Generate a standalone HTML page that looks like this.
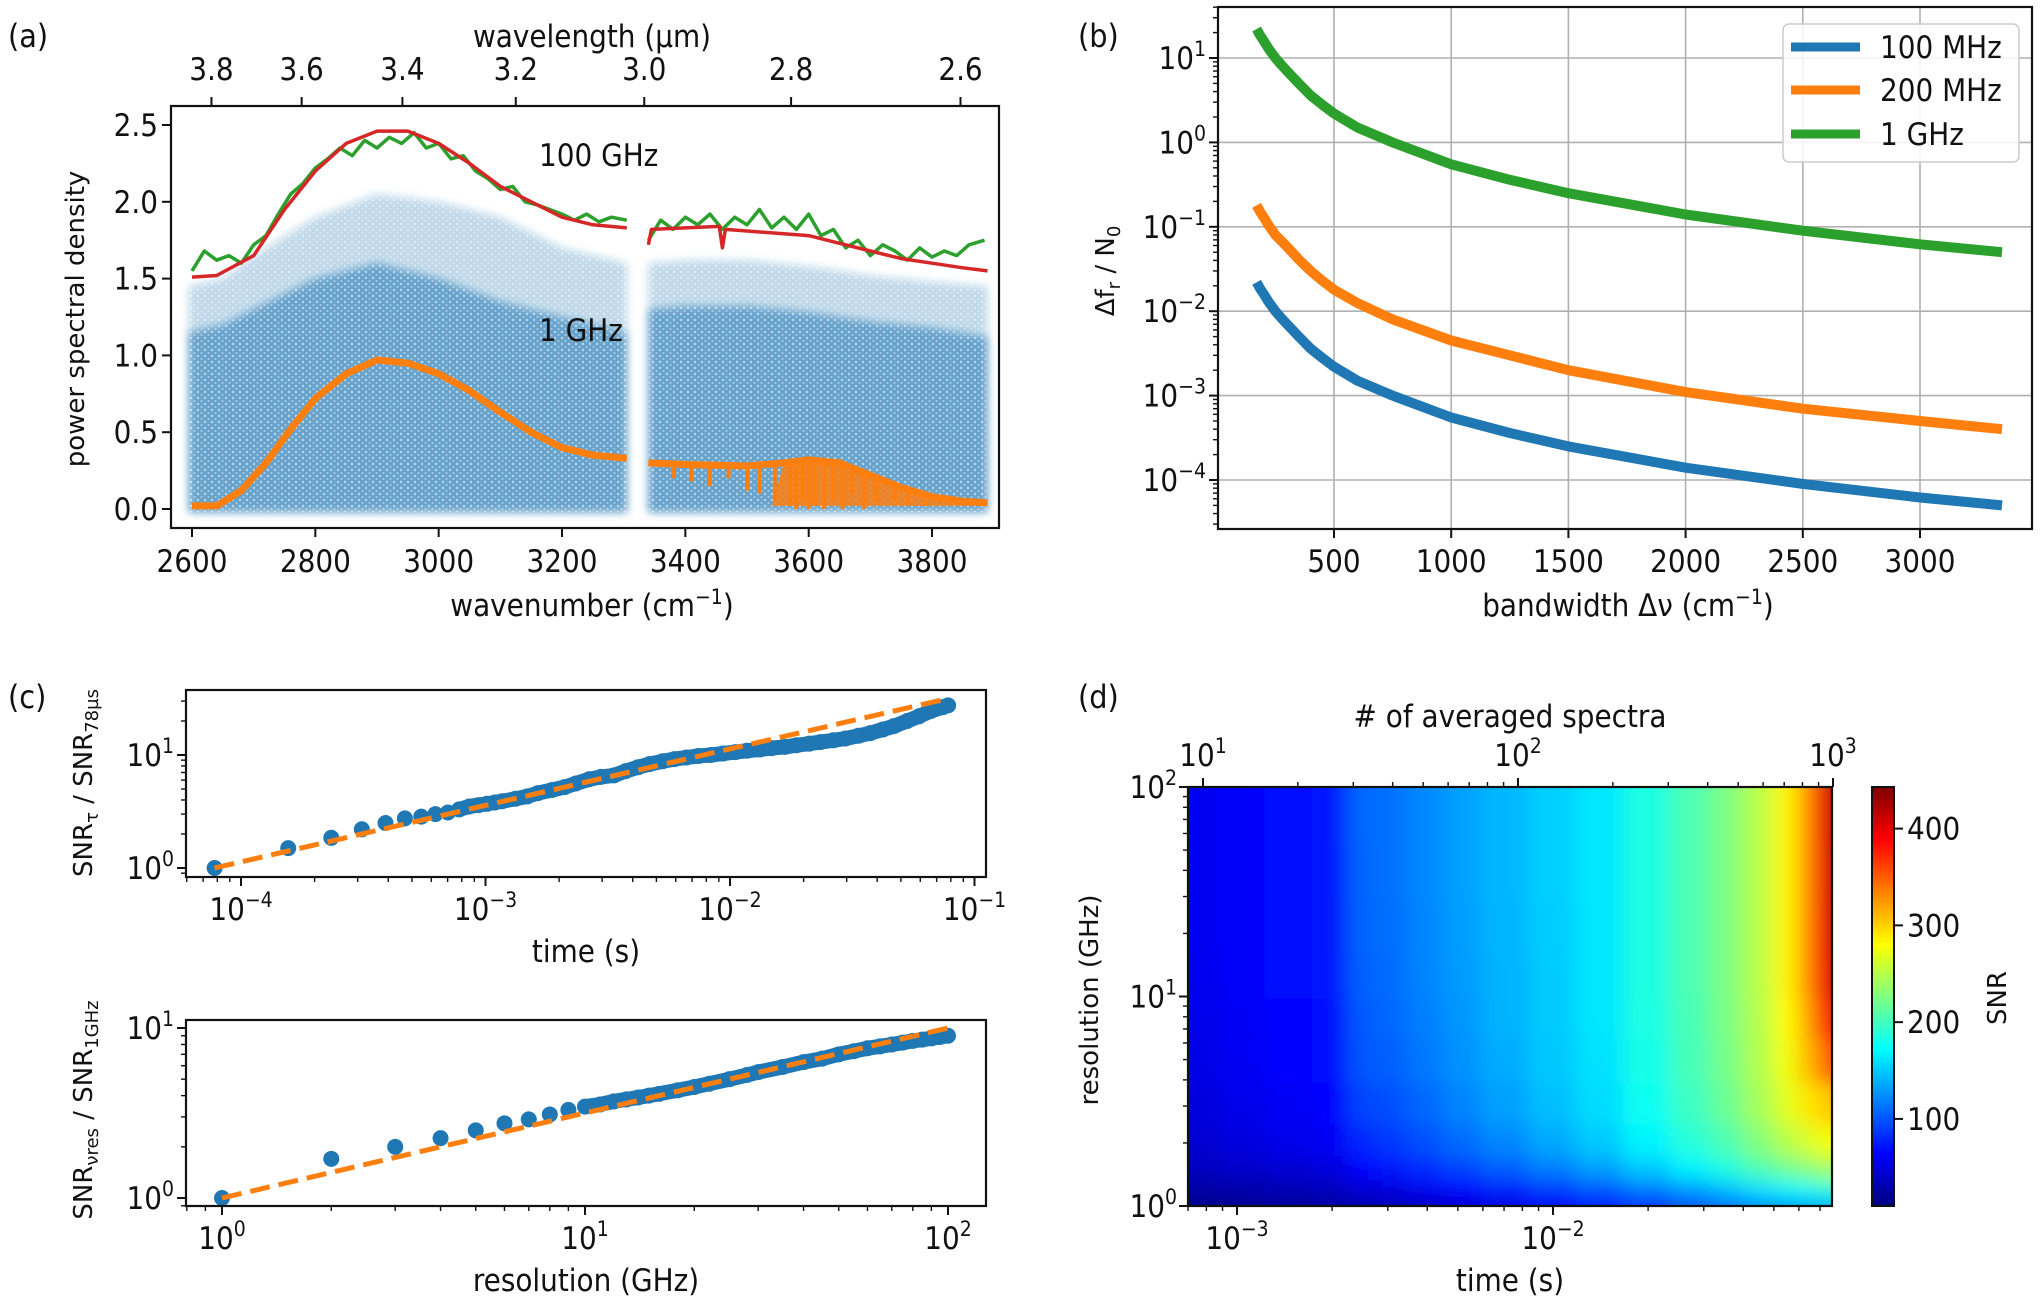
<!DOCTYPE html>
<html><head><meta charset="utf-8"><style>
body{margin:0;background:#fff}
svg text{font-family:"DejaVu Sans Condensed","DejaVu Sans",sans-serif;fill:#111}
.rt{font-family:"DejaVu Sans",sans-serif}
</style></head><body>
<svg id="fig" width="2040" height="1299" viewBox="0 0 2040 1299" xmlns="http://www.w3.org/2000/svg">
<defs>
<clipPath id="clipA"><rect x="171" y="106" width="828" height="422"/></clipPath>
<clipPath id="clipB"><rect x="1218" y="7" width="814" height="522"/></clipPath>
<clipPath id="clipC1"><rect x="186" y="690" width="800" height="187"/></clipPath>
<clipPath id="clipC2"><rect x="186" y="1020" width="800" height="186"/></clipPath>
<clipPath id="clipD"><rect x="1188" y="787" width="644" height="419"/></clipPath>
<pattern id="dots" width="7" height="6" patternUnits="userSpaceOnUse"><circle cx="2" cy="2" r="1.2" fill="#fff" opacity="0.5"/><circle cx="5.5" cy="5" r="1" fill="#fff" opacity="0.4"/></pattern>
<filter id="blurD" x="-5%" y="-5%" width="110%" height="110%"><feGaussianBlur stdDeviation="10"/></filter>
<filter id="blurA"><feGaussianBlur stdDeviation="4"/></filter>
<linearGradient id="jetGrad" x1="0" y1="1" x2="0" y2="0">
<stop offset="0" stop-color="#00007f"/><stop offset="0.125" stop-color="#0000ff"/><stop offset="0.375" stop-color="#00ffff"/><stop offset="0.625" stop-color="#ffff00"/><stop offset="0.875" stop-color="#ff0000"/><stop offset="1" stop-color="#7f0000"/>
</linearGradient>
</defs>
<g id="pa"></g>
<g id="pb"></g>
<g id="pc"></g>
<g id="pd"></g>

<text x="8" y="47" font-size="32">(a)</text>
<text x="1078" y="47" font-size="32">(b)</text>
<text x="8" y="708" font-size="32">(c)</text>
<text x="1078" y="708" font-size="32">(d)</text>

<text x="592" y="47" font-size="31" text-anchor="middle">wavelength (µm)</text>
<text class="rt" x="0" y="0" font-size="26" text-anchor="middle" transform="translate(84,319) rotate(-90)">power spectral density</text>
<text x="592" y="616" font-size="31" text-anchor="middle">wavenumber (cm<tspan dy="-12" font-size="21">−1</tspan><tspan dy="12">)</tspan></text>
<text x="539" y="166" font-size="31">100 GHz</text>
<text x="539" y="341" font-size="31">1 GHz</text>

<text class="rt" x="0" y="0" font-size="26" text-anchor="middle" transform="translate(1114,271) rotate(-90)">Δf<tspan dy="6" font-size="18">r</tspan><tspan dy="-6"> / N</tspan><tspan dy="6" font-size="18">0</tspan></text>
<text x="1628" y="616" font-size="31" text-anchor="middle">bandwidth Δν (cm<tspan dy="-12" font-size="21">−1</tspan><tspan dy="12">)</tspan></text>
<g>
<rect x="1783" y="24" width="236" height="138" rx="6" fill="#fff" fill-opacity="0.85" stroke="#ccc" stroke-width="1.5"/>
<line x1="1791" y1="47" x2="1860" y2="47" stroke="#1f77b4" stroke-width="9"/>
<text x="1880" y="58" font-size="31">100 MHz</text>
<line x1="1791" y1="90" x2="1860" y2="90" stroke="#ff7f0e" stroke-width="9"/>
<text x="1880" y="101" font-size="31">200 MHz</text>
<line x1="1791" y1="134" x2="1860" y2="134" stroke="#2ca02c" stroke-width="9"/>
<text x="1880" y="145" font-size="31">1 GHz</text>
</g>

<text class="rt" x="0" y="0" font-size="26" text-anchor="middle" transform="translate(92,783) rotate(-90)">SNR<tspan dy="6" font-size="18">τ</tspan><tspan dy="-6"> / SNR</tspan><tspan dy="6" font-size="18">78µs</tspan></text>
<text x="586" y="962" font-size="31" text-anchor="middle">time (s)</text>
<text class="rt" x="0" y="0" font-size="26" text-anchor="middle" transform="translate(92,1110) rotate(-90)">SNR<tspan dy="6" font-size="18">νres</tspan><tspan dy="-6"> / SNR</tspan><tspan dy="6" font-size="18">1GHz</tspan></text>
<text x="586" y="1291" font-size="31" text-anchor="middle">resolution (GHz)</text>

<text x="1510" y="727" font-size="31" text-anchor="middle"># of averaged spectra</text>
<text class="rt" x="0" y="0" font-size="26" text-anchor="middle" transform="translate(1098,1000) rotate(-90)">resolution (GHz)</text>
<text x="1510" y="1291" font-size="31" text-anchor="middle">time (s)</text>
<text class="rt" x="0" y="0" font-size="26" text-anchor="middle" transform="translate(2006,998) rotate(-90)">SNR</text>
</svg>
<script>
// ---------- Panel (a) data ----------
const scatLWn=[2595,2650,2700,2800,2900,3000,3100,3200,3305];
const scatLOuter=[1.45,1.5,1.65,1.9,2.05,2.0,1.9,1.7,1.6];
const scatLDense=[1.15,1.2,1.3,1.5,1.6,1.5,1.35,1.25,1.15];
const scatRWn=[3340,3400,3500,3600,3700,3800,3890];
const scatROuter=[1.6,1.62,1.62,1.58,1.52,1.48,1.45];
const scatRDense=[1.3,1.32,1.32,1.28,1.22,1.18,1.12];
const redLWn=[2600,2640,2700,2750,2800,2850,2900,2950,3000,3050,3100,3150,3200,3250,3305];
const redLVal=[1.51,1.52,1.65,1.95,2.2,2.38,2.46,2.46,2.38,2.25,2.1,2.0,1.9,1.85,1.83];
const redRWn=[3340,3345,3400,3455,3460,3465,3500,3600,3650,3700,3750,3800,3850,3890];
const redRVal=[1.72,1.82,1.83,1.84,1.7,1.82,1.81,1.78,1.73,1.68,1.63,1.6,1.57,1.55];
const greenLWn=[2600,2620,2640,2660,2680,2700,2720,2740,2760,2780,2800,2820,2840,2860,2880,2900,2920,2940,2960,2980,3000,3020,3040,3060,3080,3100,3120,3140,3160,3180,3200,3220,3240,3260,3280,3305];
const greenLVal=[1.55,1.68,1.62,1.65,1.6,1.72,1.78,1.92,2.05,2.12,2.22,2.28,2.35,2.3,2.4,2.35,2.42,2.38,2.45,2.35,2.38,2.28,2.3,2.2,2.15,2.08,2.1,2.0,1.98,1.95,1.92,1.88,1.92,1.87,1.9,1.88];
const greenRWn=[3340,3360,3380,3400,3420,3440,3460,3480,3500,3520,3540,3560,3580,3600,3620,3640,3660,3680,3700,3720,3740,3760,3780,3800,3820,3840,3860,3885];
const greenRVal=[1.75,1.88,1.82,1.9,1.85,1.92,1.82,1.9,1.85,1.95,1.83,1.9,1.82,1.92,1.78,1.82,1.7,1.75,1.65,1.72,1.68,1.62,1.7,1.64,1.68,1.65,1.72,1.75];
const orLWn=[2600,2640,2680,2720,2760,2800,2850,2900,2950,3000,3050,3100,3150,3200,3250,3305];
const orLVal=[0.02,0.02,0.12,0.3,0.52,0.72,0.88,0.97,0.95,0.88,0.77,0.63,0.5,0.4,0.35,0.33];
const orRWn=[3340,3400,3500,3560,3600,3650,3700,3750,3800,3850,3890];
const orRVal=[0.3,0.29,0.28,0.3,0.32,0.3,0.22,0.14,0.08,0.05,0.04];
const dipWn=[3380,3410,3440,3470,3500,3520,3545,3570,3580,3590,3600,3610,3625,3640,3655,3670,3690,3710,3740,3760,3790];
const dipTop=[0.29,0.29,0.29,0.28,0.28,0.29,0.3,0.31,0.32,0.32,0.32,0.32,0.31,0.3,0.29,0.27,0.24,0.2,0.14,0.1,0.06];
const dipBot=[0.2,0.18,0.15,0.2,0.12,0.1,0.05,0.02,0.0,0.05,0.0,0.02,0.0,0.05,0.0,0.1,0.0,0.05,0.05,0.03,0.02];
const aXTicks=[2600,2800,3000,3200,3400,3600,3800];
const aYTicks=[0,0.5,1.0,1.5,2.0,2.5];
const aTopTicks=[3.8,3.6,3.4,3.2,3.0,2.8,2.6];
// ---------- Panel (b) data ----------
const bBandwidth=[170,185,200,220,250,275,300,350,400,450,500,600,750,1000,1250,1500,2000,2500,3000,3350];
const b1GHz=[22,18.5,16,13,10,8.3,7,5,3.6,2.8,2.2,1.5,1.0,0.55,0.36,0.25,0.14,0.09,0.062,0.05];
const b200MHz=[0.18,0.15,0.13,0.105,0.08,0.068,0.058,0.041,0.03,0.023,0.018,0.0125,0.008,0.0045,0.003,0.002,0.0011,0.0007,0.0005,0.0004];
const b100MHz=[0.022,0.0185,0.016,0.013,0.01,0.0083,0.007,0.005,0.0036,0.0028,0.0022,0.0015,0.001,0.00055,0.00036,0.00025,0.00014,0.00009,0.000062,0.00005];
const bXTicks=[500,1000,1500,2000,2500,3000];
const bYExp=[1,0,-1,-2,-3,-4];
// ---------- Panel (c) data ----------
const cTimeN=[1,2,3,4,5,6,7,8,9,10,11,12,13,14,15,17,19,21,24,27,30,34,38,43,48,54,60,68,76,85,95,107,120,135,150,170,190,215,240,270,300,340,380,430,480,540,600,680,760,850,950,1000];
const cTimeSNR=[1,1.5,1.85,2.2,2.5,2.75,2.85,3.0,3.1,3.3,3.5,3.6,3.7,3.8,3.9,4.1,4.3,4.6,4.9,5.2,5.6,6.1,6.4,6.6,7.2,7.8,8.3,8.8,9.2,9.5,9.8,10.0,10.3,10.6,10.9,11.2,11.5,11.8,12.2,12.6,13.0,13.5,14.0,14.8,15.6,16.8,18,20,22,24.5,26.5,27.5];
const cTimeStep=7.8e-5;
const cTimeFitN=[1,1000];
const cTimeFitSNR=[1,31.6];
const cRes=[1,2,3,4,5,6,7,8,9,10,11,12,13,14,15,16,18,20,22,25,28,30,35,40,45,50,55,60,65,70,75,80,85,90,95,100];
const cResSNR=[1,1.7,2.0,2.25,2.5,2.75,2.9,3.1,3.3,3.45,3.55,3.7,3.8,3.9,4.0,4.1,4.3,4.5,4.7,5.0,5.3,5.5,5.9,6.3,6.6,7.0,7.3,7.6,7.8,8.0,8.2,8.4,8.55,8.7,8.85,9.0];
const cResFitX=[1,100];
const cResFitSNR=[1,10];
// ---------- Panel (d) data ----------
const dTimes=[7.8e-4,1e-3,1.5e-3,2e-3,2.5e-3,3e-3,4e-3,5e-3,7e-3,1e-2,1.4e-2,2e-2,2.8e-2,3.5e-2,4.5e-2,5.5e-2,6.5e-2,7.2e-2,7.8e-2];
const dRes=[1,1.2,1.5,2,3,5,8,12,20,40,70,100];
const dRow1=[15,18,22,25,30,33,38,45,52,60,70,82,95,108,120,128,132,135,138];
const dRow1p2=[25,28,32,36,45,50,58,66,76,88,100,115,130,145,160,170,178,185,190];
const dRow1p5=[38,42,46,50,65,72,82,92,104,118,132,150,168,185,205,220,232,240,245];
const dRow2=[45,50,55,60,80,88,98,110,122,136,150,168,188,205,228,250,265,275,282];
const dRow3=[50,55,60,65,92,98,108,120,132,145,158,178,198,218,242,268,290,300,310];
const dRow5=[54,59,64,69,100,105,115,126,137,149,160,182,202,222,247,275,310,340,360];
const dRow8=[55,60,65,70,102,108,118,128,140,150,162,184,204,224,248,280,320,370,400];
const dRow12=[57,62,67,72,105,110,120,130,140,150,162,185,205,225,250,285,330,385,420];
const dRow20=[58,62,67,72,106,111,121,131,141,151,162,185,205,225,250,285,330,388,428];
const dRow40=[58,62,67,72,107,112,122,132,142,152,162,185,205,225,250,285,330,390,432];
const dRow70=[58,62,67,72,108,112,122,132,142,152,162,185,205,225,250,285,330,390,435];
const dRow100=[58,62,67,72,108,112,122,132,142,152,162,185,205,225,250,285,330,390,435];
const dGrid=[dRow1,dRow1p2,dRow1p5,dRow2,dRow3,dRow5,dRow8,dRow12,dRow20,dRow40,dRow70,dRow100];
const cbMin=10, cbMax=443;
const cbTicks=[100,200,300,400];

const NS='http://www.w3.org/2000/svg';
function mk(tag,attrs,parent){const e=document.createElementNS(NS,tag);for(const k in attrs)e.setAttribute(k,attrs[k]);parent.appendChild(e);return e;}
function tlabel(parent,x,y,s,anchor){const t=mk('text',{x:x,y:y,'font-size':31,'text-anchor':anchor},parent);t.textContent=s;return t;}
function plabel(parent,x,y,exp,anchor){const t=mk('text',{x:x,y:y,'font-size':31,'text-anchor':anchor},parent);t.textContent='10';const s=mk('tspan',{dy:-13,'font-size':21},t);s.textContent=exp;return t;}
function fmtExp(e){return (e<0?'−':'')+Math.abs(e);}
function path(pts){return pts.map((p,i)=>(i?'L':'M')+p[0].toFixed(1)+','+p[1].toFixed(1)).join('');}
function frame(parent,x0,y0,x1,y1){const r=mk('rect',{x:x0,y:y0,width:x1-x0,height:y1-y0,fill:'none',stroke:'#111','stroke-width':2.2},parent);return r;}
function logMinors(lo,hi){const out=[];for(let d=Math.floor(lo);d<=Math.ceil(hi);d++){for(let m=2;m<=9;m++){const v=d+Math.log10(m);if(v>=lo&&v<=hi)out.push(v);}}return out;}

// ================= Panel A =================
(function(){
const g=document.getElementById('pa');
const X=w=>192+(w-2600)*0.6167, Y=v=>509-v*153.6;
const clip=mk('g',{'clip-path':'url(#clipA)'},g);


function band(wn,top,op,name,blur){const pts=wn.map((w,i)=>[X(w),Y(top[i])]);pts.push([X(wn[wn.length-1]),Y(-0.02)],[X(wn[0]),Y(-0.02)]);
 const p=mk('path',{d:path(pts)+'Z',fill:'#1f77b4','fill-opacity':op},clip);
 if(blur)p.setAttribute('filter','url(#blurA)');
 
 
 const q=mk('path',{d:path(pts)+'Z',fill:'url(#dots)'},clip);
 
 }
band(scatLWn,scatLOuter,0.28,'scatter-left-outer',true);
band(scatLWn,scatLDense,0.55,'scatter-left-dense',true);
band(scatRWn,scatROuter,0.28,'scatter-right-outer',true);
band(scatRWn,scatRDense,0.55,'scatter-right-dense',true);
function ln(wn,v,col,w,name){const p=mk('path',{d:path(wn.map((x,i)=>[X(x),Y(v[i])])),fill:'none',stroke:col,'stroke-width':w,'stroke-linejoin':'round'},clip);
 
 }
const fillPts=orRWn.filter(w=>w>=3540).map(w=>[X(w),Y(orRVal[orRWn.indexOf(w)])]);
fillPts.push([X(orRWn[orRWn.length-1]),Y(0.02)],[X(3540),Y(0.02)]);
const of=mk('path',{d:path(fillPts)+'Z',fill:'#ff7f0e','fill-opacity':0.85},clip);


dipWn.forEach((w,i)=>{const l=mk('line',{x1:X(w),x2:X(w),y1:Y(dipTop[i]),y2:Y(dipBot[i]),stroke:'#ff7f0e','stroke-width':4},clip);
 
 });
ln(orLWn,orLVal,'#ff7f0e',7,'orange-1ghz-left');
ln(orRWn,orRVal,'#ff7f0e',7,'orange-1ghz-right');
ln(greenLWn,greenLVal,'#2ca02c',3.5,'green-100ghz-left');
ln(greenRWn,greenRVal,'#2ca02c',3.5,'green-100ghz-right');
ln(redLWn,redLVal,'#d62728',3.5,'red-100ghz-left');
ln(redRWn,redRVal,'#d62728',3.5,'red-100ghz-right');
const f=frame(g,171,106,999,528);


aXTicks.forEach(v=>{const t=mk('line',{x1:X(v),x2:X(v),y1:528,y2:537,stroke:'#111','stroke-width':2},g);
 
 
 const l=tlabel(g,X(v),572,String(v),'middle');
 
 });
aYTicks.forEach(v=>{const t=mk('line',{x1:162,x2:171,y1:Y(v),y2:Y(v),stroke:'#111','stroke-width':2},g);
 
 
 const l=tlabel(g,158,Y(v)+11,v.toFixed(1),'end');
 
 });
aTopTicks.forEach(v=>{const x=X(10000/v);const t=mk('line',{x1:x,x2:x,y1:97,y2:106,stroke:'#111','stroke-width':2},g);
 
 
 const l=tlabel(g,x,80,v.toFixed(1),'middle');
 
 });
})();

// ================= Panel B =================
(function(){
const g=document.getElementById('pb');
const X=v=>1334+(v-500)*0.2344, Y=v=>58-(Math.log10(v)-1)*84.4;
bXTicks.forEach(v=>{const l=mk('line',{x1:X(v),x2:X(v),y1:7,y2:529,stroke:'#b0b0b0','stroke-width':1.6},g);
 
 });
bYExp.forEach(e=>{const y=Y(Math.pow(10,e));const l=mk('line',{x1:1218,x2:2032,y1:y,y2:y,stroke:'#b0b0b0','stroke-width':1.6},g);
 
 });
const clip=mk('g',{'clip-path':'url(#clipB)'},g);


[[b100MHz,'#1f77b4','line-100mhz'],[b200MHz,'#ff7f0e','line-200mhz'],[b1GHz,'#2ca02c','line-1ghz']].forEach(s=>{
 const p=mk('path',{d:path(bBandwidth.map((x,i)=>[X(x),Y(s[0][i])])),fill:'none',stroke:s[1],'stroke-width':10,'stroke-linejoin':'round'},clip);
 
 });
const f=frame(g,1218,7,2032,529);


bXTicks.forEach(v=>{const t=mk('line',{x1:X(v),x2:X(v),y1:529,y2:538,stroke:'#111','stroke-width':2},g);
 
 
 const l=tlabel(g,X(v),572,String(v),'middle');
 
 });
const lo=-4-(529-480)/84.4, hi=1+(58-7)/84.4;
logMinors(lo,hi).forEach(v=>{const y=58-(v-1)*84.4;const t=mk('line',{x1:1213,x2:1218,y1:y,y2:y,stroke:'#111','stroke-width':1.4},g);
 
 });
bYExp.forEach(e=>{const y=Y(Math.pow(10,e));const t=mk('line',{x1:1209,x2:1218,y1:y,y2:y,stroke:'#111','stroke-width':2},g);
 
 
 const l=plabel(g,1206,y+11,fmtExp(e),'end');
 
 });
})();

// ================= Panel C =================
(function(){
const g=document.getElementById('pc');
const X=t=>241+(Math.log10(t)+4)*244.5, Y=s=>868-Math.log10(s)*113;
const c1=mk('g',{'clip-path':'url(#clipC1)'},g);


const bandPts=[];cTimeN.forEach((n,i)=>{if(n>=10)bandPts.push([X(n*cTimeStep),Y(cTimeSNR[i])]);});
const bp=mk('path',{d:path(bandPts),fill:'none',stroke:'#1f77b4','stroke-width':15,'stroke-linejoin':'round','stroke-linecap':'round'},c1);


cTimeN.forEach((n,i)=>{const c=mk('circle',{cx:X(n*cTimeStep),cy:Y(cTimeSNR[i]),r:8,fill:'#1f77b4'},c1);
 
 });
const d1=mk('path',{d:path(cTimeFitN.map((n,i)=>[X(n*cTimeStep),Y(cTimeFitSNR[i])])),stroke:'#ff7f0e','stroke-width':5,'stroke-dasharray':'20 9',fill:'none'},c1);


const f1=frame(g,186,690,986,877);


const xlo=-4-(241-186)/244.5, xhi=-1+(986-974)/244.5;
logMinors(xlo,xhi).forEach(v=>{const x=241+(v+4)*244.5;const t=mk('line',{x1:x,x2:x,y1:877,y2:882,stroke:'#111','stroke-width':1.4},g);
 
 });
[-4,-3,-2,-1].forEach(e=>{const x=241+(e+4)*244.5;const t=mk('line',{x1:x,x2:x,y1:877,y2:886,stroke:'#111','stroke-width':2},g);
 
 
 const l=plabel(g,x,920,fmtExp(e),'middle');
 
 });
logMinors(-0.08,1.575).forEach(v=>{const y=868-v*113;const t=mk('line',{x1:181,x2:186,y1:y,y2:y,stroke:'#111','stroke-width':1.4},g);
 
 });
[0,1].forEach(e=>{const y=868-e*113;const t=mk('line',{x1:177,x2:186,y1:y,y2:y,stroke:'#111','stroke-width':2},g);
 
 
 const l=plabel(g,174,y+11,String(e),'end');
 
 });
const X2=r=>222+Math.log10(r)*363, Y2=s=>1198-Math.log10(s)*170;
const c2=mk('g',{'clip-path':'url(#clipC2)'},g);


const bp2=mk('path',{d:path(cRes.filter(r=>r>=10).map(r=>[X2(r),Y2(cResSNR[cRes.indexOf(r)])])),fill:'none',stroke:'#1f77b4','stroke-width':15,'stroke-linecap':'round'},c2);


cRes.forEach((r,i)=>{const c=mk('circle',{cx:X2(r),cy:Y2(cResSNR[i]),r:8,fill:'#1f77b4'},c2);
 
 });
const d2=mk('path',{d:path(cResFitX.map((r,i)=>[X2(r),Y2(cResFitSNR[i])])),stroke:'#ff7f0e','stroke-width':5,'stroke-dasharray':'20 9',fill:'none'},c2);


const f2=frame(g,186,1020,986,1206);


logMinors(-0.1,2.1).forEach(v=>{const x=222+v*363;const t=mk('line',{x1:x,x2:x,y1:1206,y2:1211,stroke:'#111','stroke-width':1.4},g);
 
 });
[0,1,2].forEach(e=>{const x=222+e*363;const t=mk('line',{x1:x,x2:x,y1:1206,y2:1215,stroke:'#111','stroke-width':2},g);
 
 
 const l=plabel(g,x,1249,String(e),'middle');
 
 });
logMinors(-0.047,1.047).forEach(v=>{const y=1198-v*170;const t=mk('line',{x1:181,x2:186,y1:y,y2:y,stroke:'#111','stroke-width':1.4},g);
 
 });
[0,1].forEach(e=>{const y=1198-e*170;const t=mk('line',{x1:177,x2:186,y1:y,y2:y,stroke:'#111','stroke-width':2},g);
 
 
 const l=plabel(g,174,y+11,String(e),'end');
 
 });
})();

// ================= Panel D =================
(function(){
const g=document.getElementById('pd');
const X=t=>1237+(Math.log10(t)+3)*316, Y=r=>1206-Math.log10(r)*209.5;
function jet(v){const t=Math.max(0,Math.min(1,(v-cbMin)/(cbMax-cbMin)));const c=x=>Math.round(255*Math.max(0,Math.min(1,x)));
 return 'rgb('+c(1.5-Math.abs(4*t-3))+','+c(1.5-Math.abs(4*t-2))+','+c(1.5-Math.abs(4*t-1))+')';}
const clip=mk('g',{'clip-path':'url(#clipD)'},g);


const hm=mk('g',{filter:'url(#blurD)'},clip);


const xe=[X(dTimes[0])-80];for(let i=1;i<dTimes.length;i++)xe.push(X(Math.sqrt(dTimes[i-1]*dTimes[i])));xe.push(X(dTimes[dTimes.length-1])+80);
const ye=[Y(dRes[0])+80];for(let j=1;j<dRes.length;j++)ye.push(Y(Math.sqrt(dRes[j-1]*dRes[j])));ye.push(Y(dRes[dRes.length-1])-80);
dGrid.forEach((row,j)=>{row.forEach((v,i)=>{const r=mk('rect',{x:xe[i]-0.5,y:ye[j+1]-0.5,width:xe[i+1]-xe[i]+1,height:ye[j]-ye[j+1]+1,fill:jet(v)},hm);
 
 });});
const f=frame(g,1188,787,1832,1206);


const xlo=-3-(1237-1188)/316, xhi=-2+(1832-1553)/316;
logMinors(xlo,xhi).forEach(v=>{const x=1237+(v+3)*316;const t=mk('line',{x1:x,x2:x,y1:1206,y2:1211,stroke:'#111','stroke-width':1.4},g);
 
 });
[-3,-2].forEach(e=>{const x=1237+(e+3)*316;const t=mk('line',{x1:x,x2:x,y1:1206,y2:1215,stroke:'#111','stroke-width':2},g);
 
 
 const l=plabel(g,x,1249,fmtExp(e),'middle');
 
 });
const XN=n=>1203+(Math.log10(n)-1)*315;
logMinors(1,3).forEach(v=>{const x=1203+(v-1)*315;const t=mk('line',{x1:x,x2:x,y1:782,y2:787,stroke:'#111','stroke-width':1.4},g);
 
 });
[1,2,3].forEach(e=>{const x=XN(Math.pow(10,e));const t=mk('line',{x1:x,x2:x,y1:778,y2:787,stroke:'#111','stroke-width':2},g);
 
 
 const l=plabel(g,x,766,String(e),'middle');
 
 });
logMinors(0,2).forEach(v=>{const y=1206-v*209.5;const t=mk('line',{x1:1183,x2:1188,y1:y,y2:y,stroke:'#111','stroke-width':1.4},g);
 
 });
[0,1,2].forEach(e=>{const y=1206-e*209.5;const t=mk('line',{x1:1179,x2:1188,y1:y,y2:y,stroke:'#111','stroke-width':2},g);
 
 
 const l=plabel(g,1177,y+11,String(e),'end');
 
 });
const C=v=>1206-(v-cbMin)/(cbMax-cbMin)*419;
const cb=mk('rect',{x:1872,y:787,width:22,height:419,fill:'url(#jetGrad)',stroke:'#111','stroke-width':2},g);


cbTicks.forEach(v=>{const t=mk('line',{x1:1894,x2:1903,y1:C(v),y2:C(v),stroke:'#111','stroke-width':2},g);
 
 
 const l=tlabel(g,1907,C(v)+11,String(v),'start');
 
 });
})();
</script>
</body></html>
